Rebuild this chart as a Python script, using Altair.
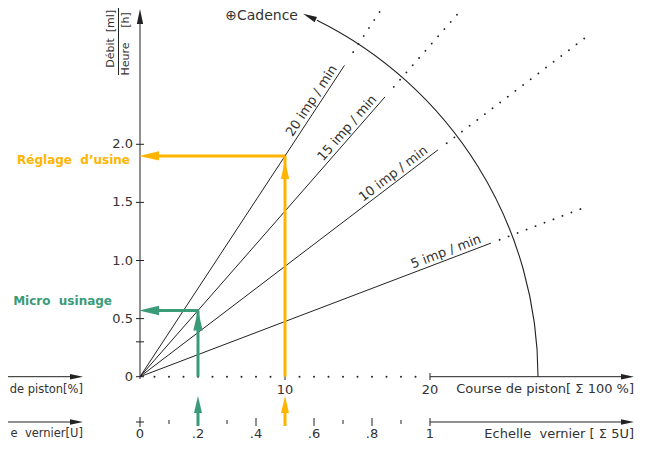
import math
import altair as alt
import pandas as pd

# ---------------- values ----------------
cadences = [5, 10, 15, 20]                       # imp/min
cadence_labels = ["5 imp / min", "10 imp / min", "15 imp / min", "20 imp / min"]
flow_per_imp = 0.0095                            # ml/h per (imp/min) per course unit
solid_end = [24.2, 20.55, 16.9, 14.1]            # course where solid line stops
dotted_end = [30.9, 30.8, 22.27, 16.7]           # course where dotted extension stops
label_pos = [21.3, 17.8, 14.7, 12.3]             # course at label centre

y_tick_values = [0, 0.3, 0.5, 1.0, 1.5, 2.0]
y_label_values = [0, 0.5, 1.0, 1.5, 2.0]
y_label_texts = ["0", "0.5", "1.0", "1.5", "2.0"]

course_label_values = [10, 20]
course_dots = [1, 2, 3, 4, 5, 6, 7, 8, 9, 11, 12, 13, 14, 15, 16, 17, 18, 19]
vernier_major = [0.2, 0.4, 0.6, 0.8, 1.0]
vernier_minor = [0.1, 0.3, 0.5, 0.7, 0.9]
vernier_label_values = [0, 0.2, 0.4, 0.6, 0.8, 1.0]
vernier_label_texts = ["0", ".2", ".4", ".6", ".8", "1"]
vernier_full_course = 20

factory_course, factory_flow = 10, 1.9
micro_course, micro_flow = 4, 0.57

# ---------------- geometry ----------------
W, H = 629, 434
KX, KY = 14.5, 116.2          # px per unit
OX, OY = 140, 376.7           # origin in page pixels


def dx(px):
    return (px - OX) / KX


def dy(py):
    return (OY - py) / KY


xs = alt.Scale(domain=[dx(8), dx(8 + W)], nice=False, zero=False)
ys = alt.Scale(domain=[dy(8 + H), dy(8)], nice=False, zero=False)
FONT = "DejaVu Sans"
INK = "#222222"
TXT = "#333333"
ORANGE = "#FFB400"
GREEN = "#3A9B78"
VY = dy(422)
NB = "\u00a0"


def X(f="x"):
    return alt.X(f"{f}:Q", scale=xs, axis=None)


def Y(f="y"):
    return alt.Y(f"{f}:Q", scale=ys, axis=None)


def rules(rows, **kw):
    return alt.Chart(pd.DataFrame(rows)).mark_rule(**kw).encode(
        x=X(), y=Y(), x2="x2:Q", y2="y2:Q")


def texts(rows, **kw):
    base = dict(font=FONT, fontSize=13, color=TXT)
    base.update(kw)
    return alt.Chart(pd.DataFrame(rows)).mark_text(**base).encode(
        x=X(), y=Y(), text="t:N", angle=alt.Angle("a:Q", scale=None))


def head(x, y, deg, L):
    r = math.radians(deg)
    return dict(x=x - (L / 2) * math.sin(r) / KX,
                y=y - (L / 2) * math.cos(r) / KY,
                a=deg, s=L * L)


def heads(rows, color, w):
    path = f"M0,-1L{w},1L-{w},1Z"
    return alt.Chart(pd.DataFrame(rows)).mark_point(
        shape=path, filled=True, color=color, opacity=1, strokeWidth=0).encode(
        x=X(), y=Y(), angle=alt.Angle("a:Q", scale=None),
        size=alt.Size("s:Q", scale=None))


layers = []

# cadence lines
slopes = [flow_per_imp * c for c in cadences]
layers.append(rules([dict(x=0, y=0, x2=e, y2=s * e) for s, e in zip(slopes, solid_end)],
                    color=INK, strokeWidth=1))
layers.append(rules([dict(x=e + 0.6, y=s * (e + 0.6), x2=d, y2=s * d)
                     for s, e, d in zip(slopes, solid_end, dotted_end)],
                    color=INK, strokeWidth=1.8, strokeDash=[0.1, 9.5], strokeCap="round"))

# arc (cadence arrow)
R = 398
tip_deg = 65.8
layers.append(alt.Chart(pd.DataFrame([dict(x=0, y=0)])).mark_arc(
    filled=False, color=INK, strokeWidth=1.1, radius=R, radius2=R,
    theta=math.radians(90 - 63.6), theta2=math.pi / 2).encode(x=X(), y=Y()))

# black axes
black = []
black.append(dict(x=0, y=dy(379), x2=0, y2=dy(20)))
for v in y_tick_values:
    black.append(dict(x=dx(136), y=v, x2=dx(144), y2=v))
for v in course_label_values:
    black.append(dict(x=v, y=dy(373), x2=v, y2=dy(380)))
black.append(dict(x=20, y=0, x2=dx(622), y2=0))
black.append(dict(x=20, y=VY, x2=dx(622), y2=VY))
black.append(dict(x=0, y=dy(417), x2=0, y2=dy(427)))
black.append(dict(x=dx(136), y=VY, x2=dx(144), y2=VY))
for v in vernier_major:
    black.append(dict(x=v * vernier_full_course, y=dy(418), x2=v * vernier_full_course, y2=dy(426)))
for v in vernier_minor:
    black.append(dict(x=v * vernier_full_course, y=dy(420), x2=v * vernier_full_course, y2=dy(424)))
black.append(dict(x=dx(8), y=0, x2=dx(72), y2=0))
black.append(dict(x=dx(8), y=VY, x2=dx(72), y2=VY))
black.append(dict(x=dx(118.5), y=dy(8), x2=dx(118.5), y2=dy(75)))
layers.append(rules(black, color=INK, strokeWidth=1))

layers.append(alt.Chart(pd.DataFrame(dict(x=course_dots, y=[0] * len(course_dots))))
              .mark_circle(color=INK, size=4, opacity=1).encode(x=X(), y=Y()))

# black arrow heads
a = math.radians(tip_deg)
bh = [head(0, dy(9), 0, 15),
      head(dx(634), 0, 90, 13), head(dx(634), VY, 90, 13),
      head(dx(83), 0, 90, 13), head(dx(83), VY, 90, 13),
      head(dx(OX + R * math.cos(a)), dy(OY - R * math.sin(a)), 360 - tip_deg + 1, 14)]
layers.append(heads(bh, INK, 0.42))

# orange / green guides
for course, flow, col in [(factory_course, factory_flow, ORANGE), (micro_course, micro_flow, GREEN)]:
    layers.append(rules([dict(x=course, y=0, x2=course, y2=flow),
                         dict(x=course, y=flow, x2=dx(150), y2=flow),
                         dict(x=course, y=dy(426), x2=course, y2=dy(405))],
                        color=col, strokeWidth=3))
    up_tip = dy(161) if col == ORANGE else flow
    layers.append(heads([head(course, up_tip, 0, 18 if col == ORANGE else 20),
                         head(dx(139), flow, 270, 20),
                         head(course, dy(396), 0, 17)], col, 0.47))

# texts
BOT = dy(434)
layers.append(texts([dict(x=dx(133), y=v, t=t, a=0) for v, t in zip(y_label_values, y_label_texts)],
                    align="right", baseline="middle"))
layers.append(texts([dict(x=v, y=dy(390), t=str(v), a=0) for v in course_label_values]
                    + [dict(x=v * vernier_full_course, y=BOT, t=t, a=0)
                       for v, t in zip(vernier_label_values, vernier_label_texts)],
                    align="center", baseline="middle"))
layers.append(texts([dict(x=dx(634), y=dy(389), t="Course de piston[ Σ 100 %]", a=0),
                     dict(x=dx(634), y=BOT, t=f"Echelle{NB} vernier [ Σ 5U]", a=0)],
                    align="right", baseline="middle"))
layers.append(texts([dict(x=dx(298), y=dy(16), t="⊕Cadence", a=0)],
                    align="right", baseline="middle", fontSize=14))
layers.append(texts([dict(x=dx(83), y=dy(390), t="de piston[%]", a=0),
                     dict(x=dx(83), y=BOT, t=f"e{NB} vernier[U]", a=0)],
                    align="right", baseline="middle", fontSize=11.5))
layers.append(texts([dict(x=dx(130), y=dy(160), t=f"Réglage{NB} d’usine", a=0)],
                    align="right", baseline="middle", fontWeight="bold", fontSize=12, color=ORANGE))
layers.append(texts([dict(x=dx(112), y=dy(301), t=f"Micro{NB} usinage", a=0)],
                    align="right", baseline="middle", fontWeight="bold", fontSize=12, color=GREEN))
layers.append(texts([dict(x=dx(111), y=dy(53), t="Débit", a=270),
                     dict(x=dx(126), y=dy(59), t="Heure", a=270),
                     dict(x=dx(111), y=dy(21), t="[ml]", a=270),
                     dict(x=dx(126), y=dy(20), t="[h]", a=270)],
                    align="center", baseline="middle", fontSize=11))
cad_rows = []
for s, p, t in zip(slopes, label_pos, cadence_labels):
    ang = math.degrees(math.atan(s * KY / KX))
    cad_rows.append(dict(x=p, y=s * p, t=t, a=360 - ang))
layers.append(texts(cad_rows, align="center", baseline="alphabetic", dy=-4))

chart = alt.layer(*layers).properties(
    width=W, height=H, padding=0, autosize=alt.AutoSizeParams(type="none")
).configure_view(strokeWidth=0)

chart.save("out.html", embed_options={"renderer": "svg", "actions": False})
